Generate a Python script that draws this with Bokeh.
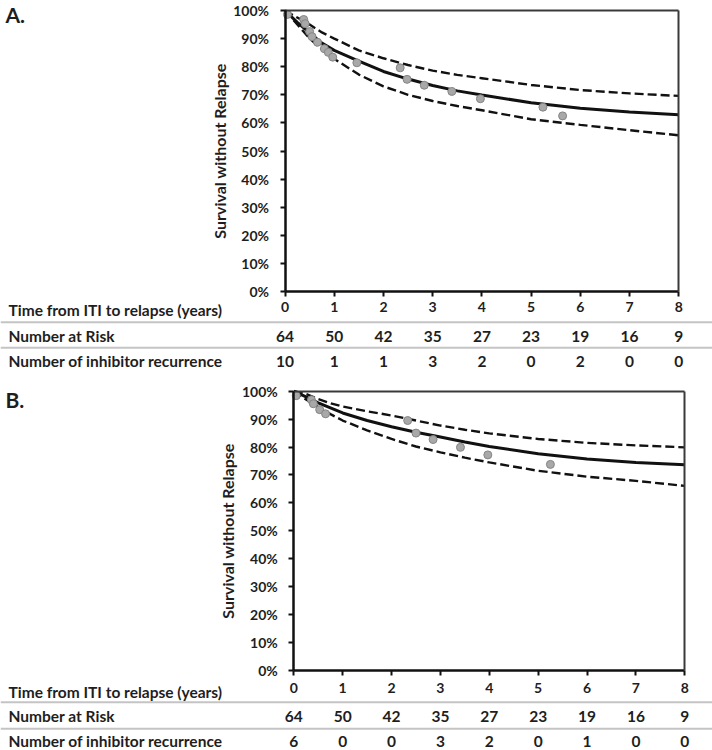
from bokeh.plotting import figure
from bokeh.models import LinearAxis, FixedTicker, NumeralTickFormatter, Span, Range1d
from bokeh.layouts import column
from bokeh.embed import file_html
from bokeh.resources import INLINE
from bokeh.core.properties import value

# ---------------- data ----------------
years = [0, 1, 2, 3, 4, 5, 6, 7, 8]
pct_ticks = [0.0, 0.1, 0.2, 0.3, 0.4, 0.5, 0.6, 0.7, 0.8, 0.9, 1.0]
row_time_label = "Time from ITI to relapse (years)"
row_risk_label = "Number at Risk"
row_recur_label = "Number of inhibitor recurrence"

a_at_risk = [64, 50, 42, 35, 27, 23, 19, 16, 9]
a_recurrence = [10, 1, 1, 3, 2, 0, 2, 0, 0]
b_at_risk = [64, 50, 42, 35, 27, 23, 19, 16, 9]
b_recurrence = [6, 0, 0, 3, 2, 0, 1, 0, 0]

curve_t = [0, 0.25, 0.5, 0.75, 1, 1.5, 2, 2.5, 3, 3.5, 4, 5, 6, 7, 8]
a_fit = [1.0, 0.958, 0.920, 0.884, 0.858, 0.820, 0.783, 0.756, 0.733, 0.714, 0.699, 0.672, 0.652, 0.639, 0.629]
a_upper = [1.0, 0.975, 0.950, 0.922, 0.900, 0.858, 0.830, 0.806, 0.786, 0.771, 0.759, 0.735, 0.717, 0.705, 0.696]
a_lower = [1.0, 0.950, 0.900, 0.862, 0.828, 0.772, 0.730, 0.700, 0.678, 0.660, 0.645, 0.613, 0.593, 0.574, 0.556]
a_obs_t = [0.05, 0.38, 0.41, 0.50, 0.55, 0.66, 0.80, 0.88, 0.97, 1.46, 2.34, 2.48, 2.83, 3.39, 3.97, 5.24, 5.64]
a_obs_s = [0.986, 0.968, 0.953, 0.925, 0.907, 0.887, 0.864, 0.851, 0.834, 0.814, 0.796, 0.755, 0.734, 0.712, 0.686, 0.656, 0.625]

b_fit = [1.0, 0.980, 0.958, 0.940, 0.922, 0.895, 0.873, 0.853, 0.836, 0.818, 0.802, 0.776, 0.757, 0.745, 0.737]
b_upper = [1.0, 0.990, 0.972, 0.957, 0.945, 0.928, 0.913, 0.895, 0.877, 0.862, 0.849, 0.829, 0.815, 0.806, 0.799]
b_lower = [1.0, 0.970, 0.943, 0.918, 0.895, 0.860, 0.829, 0.802, 0.781, 0.762, 0.745, 0.715, 0.694, 0.679, 0.661]
b_obs_t = [0.05, 0.36, 0.40, 0.53, 0.65, 2.33, 2.50, 2.85, 3.41, 3.97, 5.25]
b_obs_s = [0.984, 0.969, 0.955, 0.934, 0.919, 0.895, 0.850, 0.827, 0.799, 0.772, 0.738]

# ---------------- styling ----------------
FONT = "Lato"
TXT = "#1e1e1e"
FS_TABLE = "15.5px"
FS_TICK = "14px"
W = 712


def panel(letter, height, xr, yr, rows, x_standoff, px_per_year, fit, upper, lower,
          obs_t, obs_s, at_risk, recur):
    p = figure(width=W, height=height, x_range=Range1d(*xr), y_range=Range1d(*yr),
               output_backend="svg", toolbar_location=None,
               x_axis_type=None, y_axis_type=None, min_border=0,
               outline_line_color=None, background_fill_color="white")
    p.min_border_left = p.min_border_right = p.min_border_top = p.min_border_bottom = 0

    yax = LinearAxis(fixed_location=0, bounds=(0, 1), ticker=FixedTicker(ticks=pct_ticks),
                     formatter=NumeralTickFormatter(format="0%"),
                     axis_label="Survival without Relapse")
    xax = LinearAxis(fixed_location=0, bounds=(0, 8), ticker=FixedTicker(ticks=years))
    for ax in (yax, xax):
        ax.axis_line_color = "#111111"
        ax.axis_line_width = 2.5
        ax.major_tick_line_color = "#111111"
        ax.major_tick_line_width = 2
        ax.major_tick_in = 0
        ax.major_tick_out = 5
        ax.minor_tick_line_color = None
        ax.major_label_text_font = FONT
        ax.major_label_text_font_style = "bold"
        ax.major_label_text_font_size = FS_TICK
        ax.major_label_text_color = TXT
    yax.major_label_standoff = 11
    yax.axis_label_text_font = FONT
    yax.axis_label_text_font_style = "bold"
    yax.axis_label_text_font_size = "16px"
    yax.axis_label_text_color = TXT
    yax.axis_label_standoff = 2
    xax.major_label_standoff = x_standoff
    p.add_layout(yax, "left")
    p.add_layout(xax, "below")

    top = LinearAxis(fixed_location=1, bounds=(0, 8), ticker=FixedTicker(ticks=[]))
    right = LinearAxis(fixed_location=8, bounds=(0, 1), ticker=FixedTicker(ticks=[]))
    for ax in (top, right):
        ax.axis_line_color = "#3a3a3a"
        ax.axis_line_width = 2
        ax.major_tick_line_color = None
        ax.minor_tick_line_color = None
        ax.major_label_text_font_size = "0px"
    p.add_layout(top, "above")
    p.add_layout(right, "right")

    t_y, sep1, r_y, sep2, c_y, letter_y = rows
    for s in (sep1, sep2):
        p.add_layout(Span(location=s, dimension="width", line_color="#c4c4c4", line_width=2))

    x_left = xr[0] + 8 / px_per_year
    p.text(x=[x_left, x_left, x_left], y=[t_y, r_y, c_y],
           text=[row_time_label, row_risk_label, row_recur_label],
           text_font=value(FONT), text_font_style="bold", text_font_size=FS_TABLE,
           text_color=TXT, text_align="left", text_baseline="middle")
    p.text(x=years, y=[r_y] * len(years), text=[str(v) for v in at_risk],
           text_font=value(FONT), text_font_style="bold", text_font_size=FS_TABLE,
           text_color=TXT, text_align="center", text_baseline="middle")
    p.text(x=years, y=[c_y] * len(years), text=[str(v) for v in recur],
           text_font=value(FONT), text_font_style="bold", text_font_size=FS_TABLE,
           text_color=TXT, text_align="center", text_baseline="middle")
    p.text(x=[xr[0] + 5 / px_per_year], y=[letter_y], text=[letter],
           text_font=value(FONT), text_font_style="bold", text_font_size="21px",
           text_color=TXT, text_align="left", text_baseline="middle")

    p.line(curve_t, upper, line_color="#111111", line_width=2.4, line_dash="9 4")
    p.line(curve_t, lower, line_color="#111111", line_width=2.4, line_dash="9 4")
    p.line(curve_t, fit, line_color="#111111", line_width=3)
    p.scatter(obs_t, obs_s, size=8, fill_color="#a8a8a8", line_color="#858585", line_width=1)
    return p


# panel A: canvas rows 0..372 ; panel B: canvas rows 372..750
pa = panel("A.", 372, (-5.7802, 8.6855), (-0.28826, 1.03559),
           (-0.0676, -0.1093, -0.159, -0.2004, -0.2477, 0.9860), 6, 49.22,
           a_fit, a_upper, a_lower, a_obs_t, a_obs_s, a_at_risk, a_recurrence)
pb = panel("B.", 378, (-6.0010, 8.5668), (-0.28643, 1.06695),
           (-0.0777, -0.1135, -0.1636, -0.2087, -0.2531, 0.9692), 8, 48.875,
           b_fit, b_upper, b_lower, b_obs_t, b_obs_s, b_at_risk, b_recurrence)

layout = column(pa, pb, spacing=0)
open("out.html", "w").write(file_html(layout, INLINE))
